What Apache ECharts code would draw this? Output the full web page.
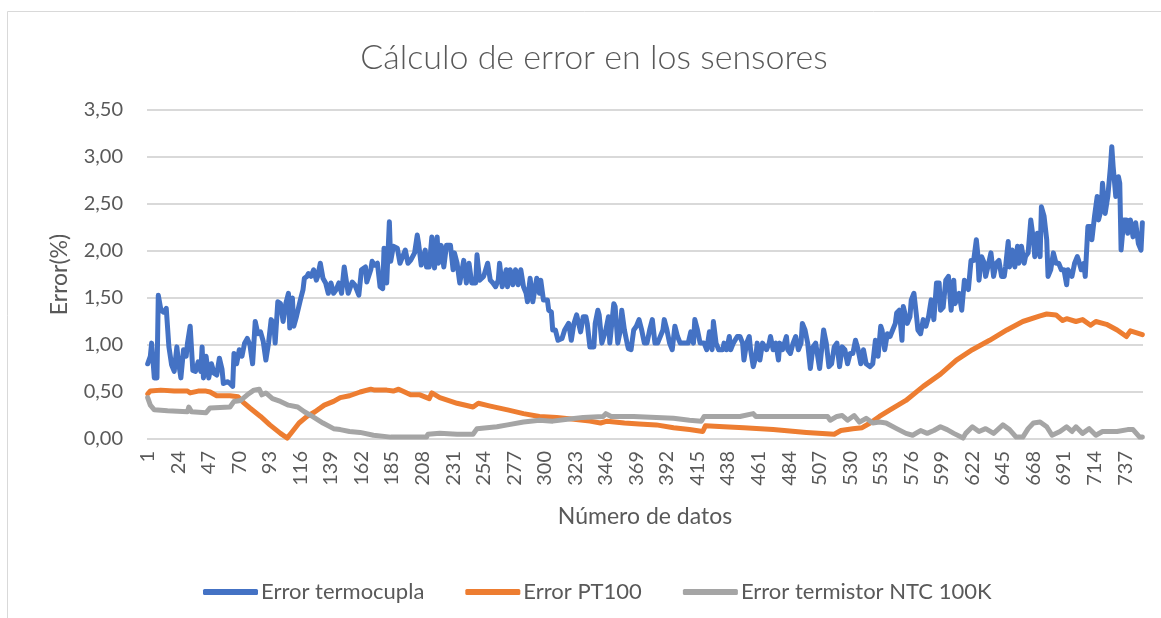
<!DOCTYPE html>
<html>
<head>
<meta charset="utf-8">
<title>Cálculo de error en los sensores</title>
<script src="https://cdn.jsdelivr.net/npm/echarts@6/dist/echarts.min.js"></script>
<style>
  html, body { margin: 0; padding: 0; background: #fff; }
  #main-chart { width: 1161px; height: 618px; }
</style>
</head>
<body>
<div id="main-chart"></div>
<script>
// número de datos en el eje X (1..750)
const nDatos = 750;
const categorias = Array.from({ length: nDatos }, (_, i) => String(i + 1));

// [número de dato, error %]
const errorTermocupla = [
  [1,0.80],[3,0.88],[4,1.02],[6,0.65],[8,0.65],[9,1.53],[11,1.37],[13,1.35],[15,1.39],[17,0.98],
  [19,0.79],[21,0.72],[23,0.98],[24,0.84],[26,0.65],[28,0.95],[30,0.88],[31,1.02],[33,1.20],[35,0.73],
  [37,0.72],[39,0.82],[41,0.72],[42,0.98],[43,0.65],[45,0.88],[47,0.65],[49,0.80],[51,0.70],[53,0.68],
  [55,0.86],[57,0.74],[58,0.59],[61,0.61],[63,0.59],[65,0.56],[66,0.91],[68,0.80],[70,0.95],[72,0.88],
  [74,1.02],[76,1.07],[78,1.00],[80,0.80],[82,1.25],[84,1.12],[86,1.14],[88,1.04],[90,0.84],[92,1.02],
  [94,1.27],[96,1.23],[97,1.02],[99,1.46],[101,1.44],[103,1.25],[105,1.44],[107,1.55],[108,1.18],[110,1.50],
  [111,1.20],[113,1.30],[116,1.48],[118,1.59],[119,1.71],[121,1.73],[122,1.76],[124,1.73],[126,1.80],[128,1.69],
  [129,1.73],[131,1.87],[133,1.71],[135,1.66],[137,1.55],[139,1.66],[141,1.55],[143,1.59],[145,1.66],[147,1.55],
  [149,1.83],[152,1.55],[155,1.67],[157,1.64],[160,1.53],[162,1.80],[165,1.83],[166,1.67],[169,1.80],[170,1.89],
  [172,1.85],[174,1.87],[176,1.62],[178,1.60],[179,2.03],[181,1.66],[183,2.31],[184,1.89],[186,2.05],[189,2.03],
  [191,1.87],[193,1.94],[195,2.01],[197,1.87],[199,1.90],[202,1.98],[204,2.17],[205,2.08],[207,1.85],[210,2.01],
  [211,1.83],[213,1.83],[215,2.15],[217,1.82],[219,2.15],[220,1.87],[222,2.06],[224,1.83],[226,2.06],[229,2.06],
  [231,1.80],[232,1.98],[234,1.87],[236,1.66],[237,1.66],[239,1.90],[241,1.66],[243,1.87],[245,1.66],[248,1.66],
  [249,1.96],[251,1.69],[254,1.73],[257,1.87],[259,1.69],[261,1.66],[263,1.62],[265,1.69],[266,1.87],[268,1.62],
  [271,1.80],[272,1.62],[274,1.80],[276,1.64],[278,1.80],[280,1.64],[282,1.80],[284,1.62],[286,1.55],[287,1.46],
  [289,1.71],[291,1.46],[294,1.71],[296,1.55],[297,1.69],[299,1.48],[302,1.48],[303,1.37],[305,1.35],[306,1.16],
  [308,1.16],[310,1.05],[313,1.07],[315,1.16],[318,1.23],[320,1.05],[322,1.23],[324,1.32],[325,1.30],[327,1.14],
  [329,1.30],[331,1.30],[332,1.23],[334,0.98],[337,0.98],[338,1.23],[340,1.37],[341,1.32],[343,1.02],[344,1.02],
  [346,1.16],[348,1.30],[349,1.02],[352,1.44],[353,1.41],[355,1.02],[357,1.16],[358,1.37],[360,1.16],[362,1.02],
  [363,0.96],[365,0.95],[367,1.16],[369,1.20],[371,1.27],[373,1.16],[375,1.02],[377,1.02],[379,1.16],[381,1.27],
  [383,1.02],[385,1.02],[389,1.16],[390,1.27],[392,1.16],[394,1.02],[396,0.95],[398,1.20],[400,1.09],[402,1.02],
  [404,1.02],[408,1.02],[410,1.14],[412,1.02],[413,1.27],[415,1.16],[417,1.02],[420,1.02],[422,0.95],[424,1.14],
  [426,0.95],[427,1.25],[429,1.02],[431,0.95],[434,0.95],[435,1.02],[437,0.95],[439,1.09],[440,0.95],[442,1.02],
  [445,1.09],[447,1.09],[449,1.02],[450,0.84],[452,1.02],[454,1.09],[455,0.95],[457,0.77],[459,0.88],[460,1.02],
  [462,0.84],[464,1.02],[467,0.95],[469,1.02],[470,1.09],[472,0.95],[474,1.02],[476,0.84],[477,1.02],[479,0.95],
  [482,1.09],[483,0.95],[485,0.91],[487,1.02],[489,1.09],[491,0.95],[493,1.02],[494,1.23],[496,1.16],[498,1.02],
  [500,0.75],[502,0.98],[504,1.02],[507,0.75],[509,1.02],[510,1.16],[512,1.02],[514,0.77],[516,0.80],[518,0.98],
  [520,1.02],[522,0.77],[524,0.98],[526,0.95],[528,0.80],[530,0.91],[532,0.91],[534,1.05],[536,0.95],[538,0.80],
  [540,0.95],[542,0.80],[545,0.77],[547,0.80],[549,1.05],[551,0.88],[553,1.20],[554,1.16],[556,0.95],[558,1.12],
  [560,1.09],[562,1.16],[564,1.23],[565,1.34],[567,1.37],[569,1.05],[570,1.41],[573,1.23],[575,1.30],[576,1.48],
  [578,1.55],[580,1.30],[581,1.16],[583,1.12],[585,1.27],[587,1.20],[589,1.30],[591,1.48],[593,1.27],[595,1.66],
  [597,1.66],[598,1.37],[600,1.40],[602,1.69],[604,1.73],[606,1.37],[608,1.69],[609,1.44],[611,1.51],[612,1.55],
  [614,1.37],[616,1.69],[618,1.62],[619,1.59],[621,1.90],[623,1.90],[625,2.12],[626,1.98],[627,1.69],[629,1.94],
  [631,1.87],[632,1.73],[634,1.85],[636,1.98],[638,1.73],[640,1.87],[642,1.90],[644,1.73],[646,1.73],[647,1.83],
  [649,2.10],[650,1.83],[652,2.01],[654,1.83],[656,2.05],[657,1.87],[659,2.05],[661,1.87],[662,1.94],[664,1.98],
  [666,2.33],[668,2.12],[669,1.94],[671,2.19],[673,1.94],[674,2.47],[676,2.37],[678,2.12],[679,1.73],[681,1.80],
  [683,1.98],[685,1.87],[687,1.87],[689,1.80],[691,1.80],[693,1.64],[694,1.80],[695,1.80],[697,1.73],[699,1.87],
  [701,1.94],[702,1.90],[704,1.80],[706,1.87],[707,1.73],[709,2.26],[711,2.26],[712,2.12],[714,2.37],[716,2.58],
  [717,2.33],[719,2.44],[720,2.72],[722,2.40],[724,2.58],[726,2.90],[727,3.11],[728,2.90],[730,2.58],[732,2.79],
  [733,2.72],[734,2.01],[736,2.33],[738,2.33],[739,2.19],[741,2.33],[743,2.15],[745,2.30],[747,2.08],[749,2.01],
  [750,2.30]
];

const errorPT100 = [
  [1,0.48],[3,0.51],[11,0.52],[21,0.51],[31,0.51],[33,0.49],[39,0.51],[45,0.51],[48,0.50],[53,0.46],
  [63,0.46],[69,0.45],[73,0.39],[78,0.33],[86,0.24],[93,0.15],[101,0.06],[106,0.01],[110,0.08],[115,0.17],
  [121,0.24],[127,0.29],[134,0.36],[141,0.40],[146,0.44],[153,0.46],[161,0.50],[169,0.53],[172,0.52],[181,0.52],
  [186,0.51],[190,0.53],[199,0.47],[206,0.47],[213,0.43],[215,0.49],[221,0.44],[234,0.38],[246,0.34],[250,0.38],
  [259,0.35],[272,0.31],[284,0.27],[296,0.24],[309,0.23],[322,0.21],[334,0.19],[342,0.17],[347,0.19],[360,0.17],
  [371,0.16],[384,0.15],[397,0.12],[409,0.10],[419,0.08],[421,0.14],[435,0.13],[450,0.12],[472,0.10],[497,0.07],
  [518,0.05],[523,0.09],[532,0.11],[539,0.12],[545,0.17],[552,0.24],[560,0.31],[572,0.41],[585,0.56],[598,0.69],
  [610,0.84],[622,0.95],[635,1.05],[648,1.16],[660,1.25],[673,1.31],[678,1.33],[685,1.32],[690,1.26],[693,1.28],
  [700,1.25],[705,1.27],[711,1.21],[715,1.25],[723,1.22],[731,1.16],[738,1.09],[741,1.15],[750,1.11]
];

const errorNTC100K = [
  [1,0.44],[3,0.36],[6,0.31],[16,0.30],[31,0.29],[32,0.34],[34,0.29],[45,0.28],[48,0.33],[63,0.34],
  [66,0.40],[71,0.41],[76,0.47],[81,0.52],[85,0.53],[87,0.47],[90,0.49],[95,0.43],[101,0.40],[107,0.36],
  [114,0.34],[119,0.29],[125,0.24],[133,0.17],[141,0.11],[146,0.10],[153,0.08],[161,0.07],[171,0.04],[184,0.02],
  [197,0.02],[211,0.02],[212,0.05],[221,0.06],[234,0.05],[246,0.05],[249,0.11],[264,0.13],[272,0.15],[284,0.18],
  [296,0.20],[306,0.19],[317,0.21],[329,0.23],[344,0.24],[346,0.27],[350,0.24],[367,0.24],[384,0.23],[397,0.22],
  [409,0.20],[418,0.19],[420,0.24],[447,0.24],[457,0.27],[459,0.24],[513,0.24],[515,0.20],[520,0.24],[524,0.25],
  [528,0.20],[533,0.25],[537,0.18],[542,0.22],[547,0.17],[552,0.18],[557,0.17],[565,0.11],[572,0.06],[577,0.04],
  [583,0.09],[588,0.06],[593,0.09],[598,0.13],[603,0.10],[608,0.06],[615,0.01],[617,0.06],[622,0.13],[627,0.08],
  [632,0.11],[638,0.06],[645,0.15],[650,0.10],[655,0.02],[660,0.02],[664,0.11],[668,0.17],[673,0.18],[678,0.13],
  [682,0.04],[688,0.08],[693,0.13],[697,0.08],[700,0.13],[705,0.06],[710,0.11],[715,0.04],[720,0.08],[731,0.08],
  [739,0.10],[743,0.10],[748,0.02],[750,0.02]
];

const colores = ['#4472C4', '#ED7D31', '#A5A5A5'];
const fuente = 'Lato, "Open Sans", sans-serif';
const gris = '#595959';

const chartDom = document.getElementById('main-chart');
const myChart = echarts.init(chartDom, null, { renderer: 'canvas' });

// serie de línea gruesa, sin marcadores (estilo Excel)
const linea = (nombre, datos, color) => ({
  name: nombre,
  type: 'line',
  data: datos.map(([n, v]) => [String(n), v]),
  showSymbol: false,
  symbol: 'none',
  lineStyle: { color: color, width: 5, cap: 'round', join: 'round' },
  itemStyle: { color: color },
  emphasis: { disabled: true }
});

const option = {
  animation: false,
  backgroundColor: '#fff',
  color: colores,
  title: {
    text: 'Cálculo de error en los sensores',
    left: 589,
    textAlign: 'center',
    top: 36,
    textStyle: { fontFamily: fuente, fontSize: 34, fontWeight: 300, color: gris }
  },
  grid: { left: 147, right: 18, top: 110, bottom: 179, outerBoundsMode: 'none' },
  legend: {
    left: 198,
    top: 576,
    icon: 'roundRect',
    itemWidth: 55,
    itemHeight: 6,
    itemGap: 41,
    textStyle: { fontFamily: fuente, fontSize: 22, color: gris, padding: [0, 0, 0, -2] },
    data: ['Error termocupla', 'Error PT100', 'Error termistor NTC 100K']
  },
  xAxis: {
    type: 'category',
    data: categorias,
    boundaryGap: true,
    name: 'Número de datos',
    nameLocation: 'middle',
    nameGap: 66,
    nameTextStyle: { fontFamily: fuente, fontSize: 23, color: gris },
    axisLine: { show: false },
    axisTick: { show: false },
    axisLabel: {
      interval: 22,
      rotate: 90,
      margin: 12,
      fontFamily: fuente,
      fontSize: 20,
      color: gris
    },
    splitLine: { show: false }
  },
  yAxis: {
    type: 'value',
    min: 0,
    max: 3.5,
    interval: 0.5,
    name: 'Error(%)',
    nameLocation: 'middle',
    nameGap: 76,
    nameTextStyle: { fontFamily: fuente, fontSize: 23, color: gris },
    axisLine: { show: false },
    axisTick: { show: false },
    axisLabel: {
      margin: 24,
      fontFamily: fuente,
      fontSize: 20,
      color: gris,
      formatter: (v) => v.toFixed(2).replace('.', ',')
    },
    splitLine: { lineStyle: { color: '#d9d9d9', width: 2 } }
  },
  graphic: [
    {
      type: 'rect',
      silent: true,
      shape: { x: 7.5, y: 11.5, width: 1200, height: 700 },
      style: { fill: 'none', stroke: '#d9d9d9', lineWidth: 1 }
    }
  ],
  series: [
    linea('Error termocupla', errorTermocupla, colores[0]),
    linea('Error PT100', errorPT100, colores[1]),
    linea('Error termistor NTC 100K', errorNTC100K, colores[2])
  ]
};

myChart.setOption(option);
</script>
</body>
</html>
